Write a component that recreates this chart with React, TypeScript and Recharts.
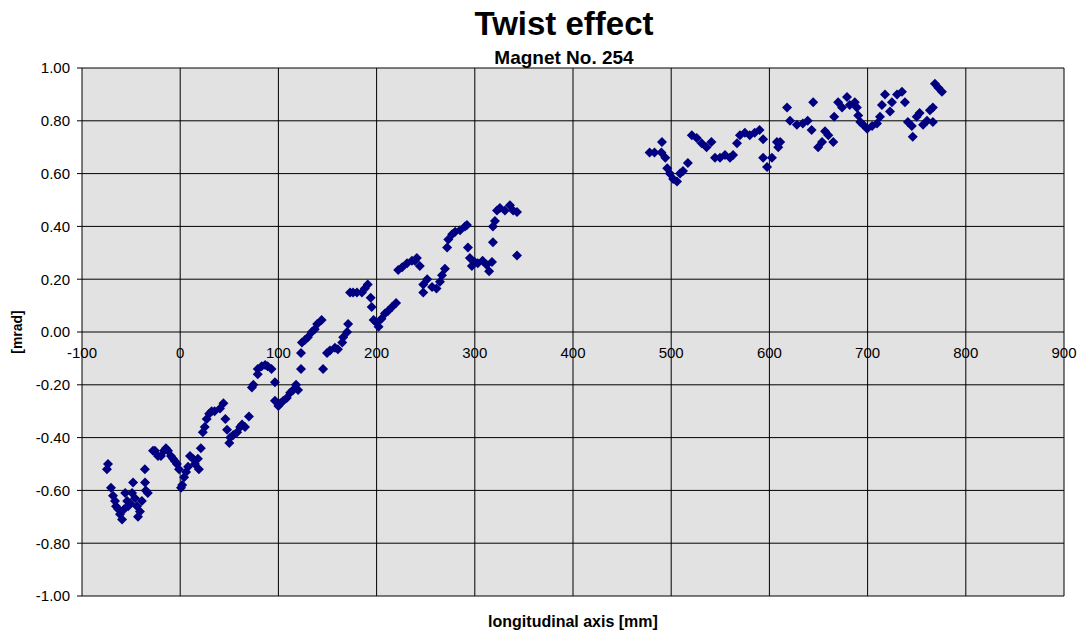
import React from 'react';
import {
  CartesianGrid,
  ScatterChart,
  Scatter,
  XAxis,
  YAxis,
} from 'recharts';

// longitudinal position [mm] and twist [mrad]
const positionMm = [
  -74.6, -73.5, -70.5, -68.4, -66.4, -65.4, -63.3, -61.3, -59.2, -57, -56, -54, -53, -51, -49, -48, -46, -44, -43,
  -41, -39, -36, -35.8, -35, -33,
  -27.7, -25.7, -22.6, -19.6, -16.5, -14.5, -12.4, -9.4, -7.3, -5.3, -3.3, -1.2, 0.8, 2, 4, 6, 8, 10, 13, 15, 18, 19,
  21, 23, 25, 27, 29.5, 32, 35, 40.5, 44, 46, 47.7, 50, 51, 54, 58, 61, 63, 66, 70, 73, 74.5, 79, 79, 83, 86.5, 89,
  93, 96.5, 96.5, 100, 102, 105, 108.5, 112, 115, 118, 120, 123, 123, 124, 127, 130, 134, 137, 139.5, 144, 145.5,
  149.5, 152.5, 157.6, 160.6, 165, 166, 170, 171, 173, 176, 180, 185, 188, 191, 194, 195, 197, 200, 202, 205, 208.5,
  211.6, 215.7, 219.8, 222, 226, 231, 236, 239, 241, 244, 247.5, 247.5, 251.5, 256.5, 261, 264.5, 266.6, 269.6, 271.8,
  273, 277, 280, 285, 290, 292, 293, 295, 297, 300, 303, 308, 312, 314.6, 317.5, 318.5, 318.5, 320.5, 322.6, 325.6,
  330.7, 335.8, 339, 343, 343,
  478, 483, 490.6, 490, 494, 496, 498.6, 502, 505.9, 509, 512, 517, 521, 526, 531, 536, 541, 544.6, 549.7, 554.8,
  559.9, 563, 567, 570, 575, 580, 585, 590, 593.6, 593.6, 597.6, 602.6, 607.7, 609, 611, 618, 621, 628, 634, 639, 643,
  644.6, 649.6, 653.6, 656.7, 660, 665, 666, 670, 674, 679, 681.8, 687, 689, 690.5, 692.5, 695.5, 699.5, 704.6, 709.6,
  712.6, 714.6, 717.7, 722.8, 724.8, 730, 735, 738, 741, 745, 746, 750, 753, 756.5, 760.5, 763.5, 766.5, 766.5, 768.6,
  772, 775.7,
];

const twistMrad = [
  -0.52, -0.5, -0.59, -0.62, -0.64, -0.66, -0.67, -0.69, -0.71, -0.67, -0.61, -0.64, -0.66, -0.65, -0.61, -0.57, -0.63,
  -0.66, -0.7, -0.68, -0.64, -0.52, -0.57, -0.6, -0.61,
  -0.45, -0.45, -0.47, -0.47, -0.45, -0.44, -0.45, -0.47, -0.48, -0.49, -0.5, -0.52, -0.59, -0.58, -0.55, -0.53, -0.51,
  -0.47, -0.48, -0.5, -0.48, -0.52, -0.44, -0.38, -0.36, -0.33, -0.31, -0.3, -0.3, -0.29, -0.27, -0.33, -0.37, -0.42,
  -0.4, -0.39, -0.38, -0.36, -0.35, -0.36, -0.32, -0.21, -0.2, -0.16, -0.14, -0.13, -0.125, -0.13, -0.14, -0.19, -0.26,
  -0.28, -0.27, -0.26, -0.25, -0.23, -0.22, -0.2, -0.22, -0.14, -0.08, -0.04, -0.03, -0.02, 0.0, 0.01, 0.03, 0.045,
  -0.14, -0.08, -0.07, -0.06, -0.065, -0.04, -0.02, 0.0, 0.03, 0.15, 0.15, 0.15, 0.15, 0.165, 0.18, 0.13, 0.095, 0.045,
  0.035, 0.02, 0.05, 0.07, 0.08, 0.095, 0.11, 0.235, 0.245, 0.26, 0.27, 0.27, 0.28, 0.25, 0.18, 0.15, 0.2, 0.17, 0.165,
  0.19, 0.215, 0.24, 0.32, 0.35, 0.37, 0.38, 0.385, 0.4, 0.405, 0.32, 0.28, 0.25, 0.265, 0.26, 0.27, 0.255, 0.23, 0.265,
  0.34, 0.4, 0.42, 0.46, 0.47, 0.46, 0.48, 0.46, 0.455, 0.29,
  0.68, 0.68, 0.72, 0.68, 0.66, 0.62, 0.6, 0.58, 0.57, 0.6, 0.61, 0.64, 0.745, 0.735, 0.715, 0.7, 0.72, 0.66, 0.66,
  0.67, 0.66, 0.67, 0.715, 0.745, 0.755, 0.745, 0.755, 0.765, 0.73, 0.66, 0.625, 0.66, 0.72, 0.7, 0.72, 0.85, 0.8,
  0.785, 0.79, 0.8, 0.765, 0.87, 0.7, 0.72, 0.76, 0.745, 0.72, 0.815, 0.87, 0.85, 0.89, 0.86, 0.87, 0.85, 0.82, 0.795,
  0.785, 0.77, 0.78, 0.79, 0.815, 0.86, 0.9, 0.835, 0.87, 0.9, 0.91, 0.87, 0.795, 0.78, 0.74, 0.815, 0.83, 0.785, 0.8,
  0.84, 0.85, 0.795, 0.94, 0.925, 0.91,
];

const xTicks = [-100, 0, 100, 200, 300, 400, 500, 600, 700, 800, 900];
const yTicks = [-1, -0.8, -0.6, -0.4, -0.2, 0, 0.2, 0.4, 0.6, 0.8, 1];

const W = 1082;
const H = 633;
const PLOT_TOP = 68;
const PLOT_H = 528;
const FONT = 'Arial, "Liberation Sans", sans-serif';
const NAVY = '#000080';

const points = positionMm.map((x, i) => ({ x, y: twistMrad[i] }));

const Diamond = (props: any) => {
  const { cx, cy } = props;
  const r = 5;
  return (
    <polygon
      points={`${cx},${cy - r} ${cx + r},${cy} ${cx},${cy + r} ${cx - r},${cy}`}
      fill={NAVY}
    />
  );
};

// x labels sit along the zero line, as in the spreadsheet original
const XTick = (props: any) => {
  const { x, y, payload } = props;
  return (
    <text x={x} y={y - PLOT_H / 2} dy={18} textAnchor="middle" fontSize={15} fontFamily={FONT} fill="#000">
      {payload.value}
    </text>
  );
};

const centered = (centerX: number): React.CSSProperties => ({
  position: 'absolute',
  left: centerX - 300,
  width: 600,
  textAlign: 'center',
  fontWeight: 'bold',
  whiteSpace: 'nowrap',
});

export default function App() {
  return (
    <div style={{ position: 'absolute', left: 0, top: 0, width: W, height: H, background: '#fff', fontFamily: FONT }}>
      <div style={{ ...centered(564), top: 5, fontSize: 33, lineHeight: '38px' }}>Twist effect</div>
      <div style={{ ...centered(564), top: 47, fontSize: 19, lineHeight: '22px' }}>Magnet No. 254</div>
      <ScatterChart
        width={W}
        height={H}
        margin={{ top: PLOT_TOP, right: 18, bottom: 7, left: 20 }}
        style={{ position: 'absolute', left: 0, top: 0 }}
      >
        <CartesianGrid
          stroke="#000"
          strokeWidth={1}
          fill="#E2E2E2"
          fillOpacity={1}
          horizontalValues={yTicks}
          verticalValues={xTicks}
        />
        <XAxis
          type="number"
          dataKey="x"
          domain={[-100, 900]}
          ticks={xTicks}
          interval={0}
          height={30}
          axisLine={false}
          tickLine={false}
          tick={<XTick />}
          allowDataOverflow
        />
        <YAxis
          type="number"
          dataKey="y"
          domain={[-1, 1]}
          ticks={yTicks}
          interval={0}
          width={62}
          axisLine={false}
          tickLine={{ stroke: '#000' }}
          tickSize={5}
          tickMargin={7}
          tickFormatter={(v: number) => v.toFixed(2)}
          tick={{ fontSize: 15, fontFamily: FONT, fill: '#000' }}
          allowDataOverflow
        />
        <Scatter data={points} shape={<Diamond />} isAnimationActive={false} />
      </ScatterChart>
      <div style={{ ...centered(573), top: 613, fontSize: 16, lineHeight: '18px' }}>longitudinal axis [mm]</div>
      <div
        style={{
          position: 'absolute',
          left: 17,
          top: 332,
          transform: 'translate(-50%, -50%) rotate(-90deg)',
          fontSize: 14,
          fontWeight: 'bold',
          whiteSpace: 'nowrap',
        }}
      >
        [mrad]
      </div>
    </div>
  );
}
